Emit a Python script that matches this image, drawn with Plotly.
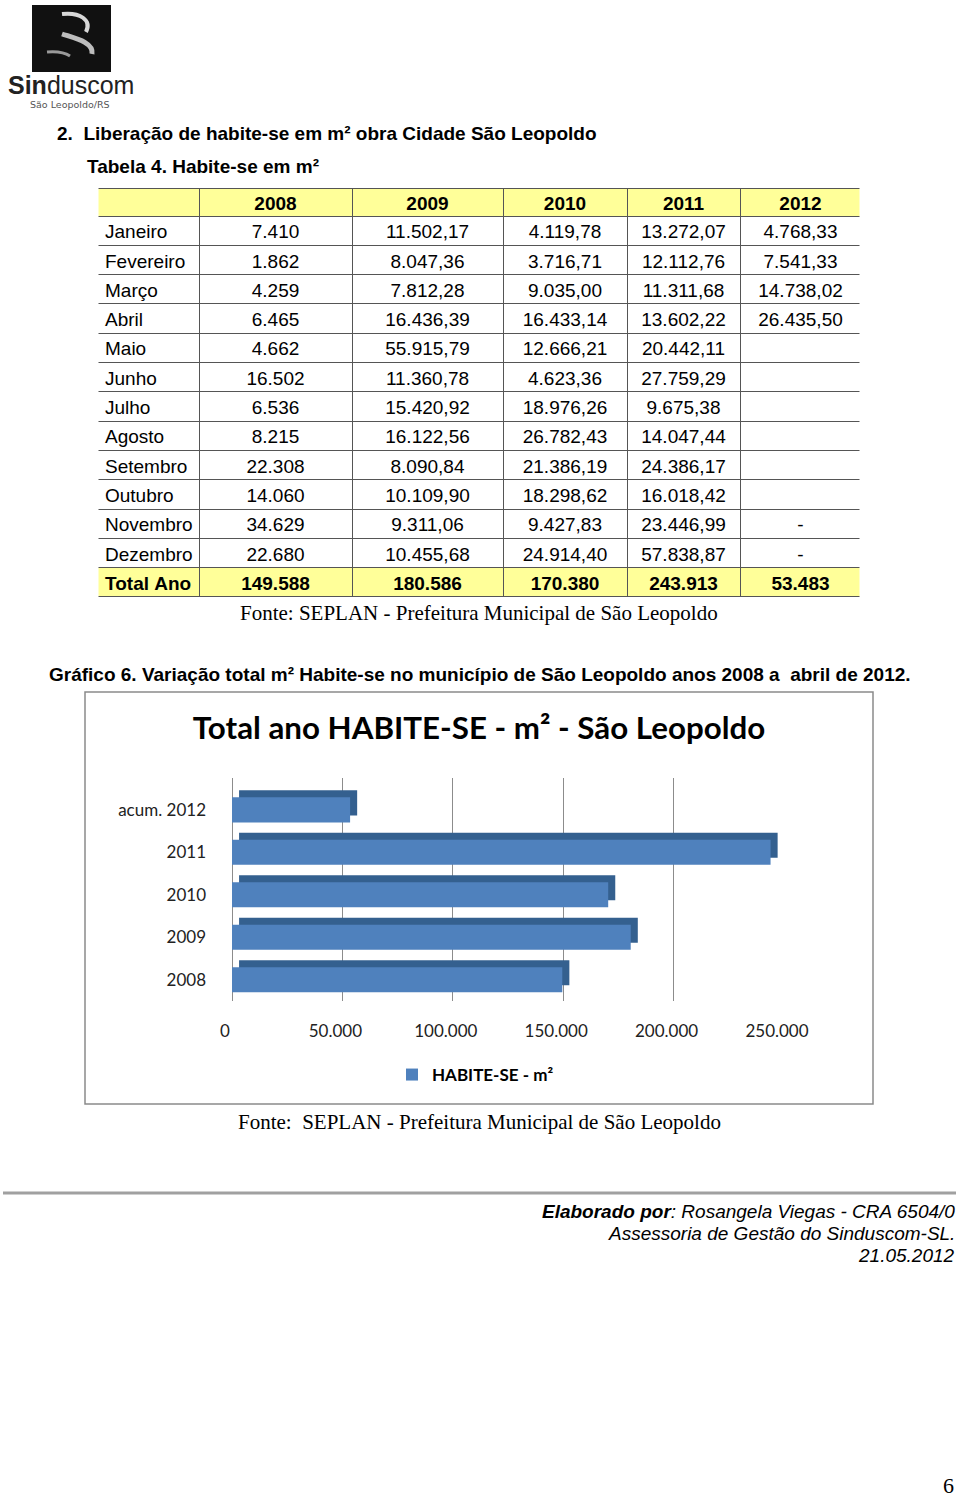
"""Habite-se page: table 4 and gráfico 6 (São Leopoldo)."""

import plotly.graph_objects as go

W, H = 960, 1499

# --- table data (Tabela 4. Habite-se em m²) ---
MONTHS = ["Janeiro", "Fevereiro", "Março", "Abril", "Maio", "Junho", "Julho",
          "Agosto", "Setembro", "Outubro", "Novembro", "Dezembro"]
YEARS = ["2008", "2009", "2010", "2011", "2012"]
V2008 = ["7.410", "1.862", "4.259", "6.465", "4.662", "16.502", "6.536",
         "8.215", "22.308", "14.060", "34.629", "22.680"]
V2009 = ["11.502,17", "8.047,36", "7.812,28", "16.436,39", "55.915,79",
         "11.360,78", "15.420,92", "16.122,56", "8.090,84", "10.109,90",
         "9.311,06", "10.455,68"]
V2010 = ["4.119,78", "3.716,71", "9.035,00", "16.433,14", "12.666,21",
         "4.623,36", "18.976,26", "26.782,43", "21.386,19", "18.298,62",
         "9.427,83", "24.914,40"]
V2011 = ["13.272,07", "12.112,76", "11.311,68", "13.602,22", "20.442,11",
         "27.759,29", "9.675,38", "14.047,44", "24.386,17", "16.018,42",
         "23.446,99", "57.838,87"]
V2012 = ["4.768,33", "7.541,33", "14.738,02", "26.435,50", "", "", "", "",
         "", "", "-", "-"]
TOTAL_LABEL = "Total\u00a0Ano"
TOTALS_TXT = ["149.588", "180.586", "170.380", "243.913", "53.483"]

# --- chart data (Gráfico 6) ---
BAR_CATS = ["2008", "2009", "2010", "2011", "acum. 2012"]
BAR_TOTALS = [149588, 180586, 170380, 243913, 53483]

YELLOW = "#FFFF99"
BLUE = "#4F81BD"
BLUE_DARK = "#34608F"
CHART_FONT = "Lato"
TABLE_FONT = "Liberation Sans"
COL_W = [102, 153, 151, 124, 113, 121]
HEAD_H, ROW_H = 28, 29.3
TABLE_TOP = 188


def px(x):
    return x / W


def py(y):
    return 1 - y / H


fig = go.Figure()

# month table (years in the header row)
body_bottom = TABLE_TOP + HEAD_H + ROW_H * len(MONTHS)
fig.add_trace(go.Table(
    domain=dict(x=[px(97), px(861)], y=[py(body_bottom + 2), py(TABLE_TOP)]),
    columnwidth=COL_W,
    header=dict(
        values=[""] + YEARS,
        fill_color=YELLOW,
        line=dict(color="#555555", width=1),
        align="center",
        height=HEAD_H,
        font=dict(family=TABLE_FONT, size=19, color="black", weight="bold"),
    ),
    cells=dict(
        values=[MONTHS, V2008, V2009, V2010, V2011, V2012],
        fill_color="white",
        line=dict(color="#555555", width=1),
        align=["left"] + ["center"] * 5,
        height=ROW_H,
        font=dict(family=TABLE_FONT, size=19, color="black"),
    ),
))
# total row (bold, yellow) as its own one-row table
fig.add_trace(go.Table(
    domain=dict(x=[px(97), px(861)],
                y=[py(body_bottom + ROW_H + 4), py(body_bottom)]),
    columnwidth=COL_W,
    header=dict(
        values=[TOTAL_LABEL] + TOTALS_TXT,
        fill_color=YELLOW,
        line=dict(color="#555555", width=1),
        align=["left"] + ["center"] * 5,
        height=ROW_H,
        font=dict(family=TABLE_FONT, size=19, color="black", weight="bold"),
    ),
    cells=dict(values=[]),
))

# 3D-looking bars: darker copy slightly up/right, front face on top
fig.add_trace(go.Bar(
    y=BAR_CATS, x=BAR_TOTALS, base=3200, orientation="h",
    width=0.59, offset=-0.13, marker=dict(color=BLUE_DARK, line_width=0),
    showlegend=False, hoverinfo="skip",
))
fig.add_trace(go.Bar(
    y=BAR_CATS, x=BAR_TOTALS, orientation="h",
    width=0.59, offset=-0.295, marker=dict(color=BLUE, line_width=0),
    name="HABITE-SE - m²",
))

fig.update_xaxes(
    domain=[px(232), px(784)], range=[0, 250000], dtick=50000,
    tickformat=",d", showgrid=True, gridcolor="#8c8c8c", gridwidth=1,
    zeroline=True, zerolinecolor="#8c8c8c", zerolinewidth=1, showline=False,
    ticklabelstandoff=18, ticklabelshift=-7, automargin=False,
    tickfont=dict(family=CHART_FONT, size=17, color="#222"),
)
fig.update_yaxes(
    domain=[py(1001), py(778)], range=[-0.5, 4.75], type="category",
    showgrid=False, ticklabelstandoff=25, showline=False, automargin=False,
    tickfont=dict(family=CHART_FONT, size=17, color="#222"),
)

shapes = [
    # chart frame
    dict(type="rect", xref="paper", yref="paper", x0=px(85), x1=px(873),
         y0=py(692), y1=py(1104), line=dict(color="#8a8a8a", width=1.5)),
    # footer rule
    dict(type="line", xref="paper", yref="paper", x0=px(3), x1=px(956),
         y0=py(1193), y1=py(1193), line=dict(color="#a0a0a0", width=3)),
    # logo block
    dict(type="rect", xref="paper", yref="paper", x0=px(32), x1=px(111),
         y0=py(72), y1=py(5), fillcolor="#111", line_width=0),
    # hide outer table side borders
    dict(type="line", xref="paper", yref="paper", x0=px(97), x1=px(97),
         y0=py(186), y1=py(602), line=dict(color="white", width=3),
         layer="above"),
    dict(type="line", xref="paper", yref="paper", x0=px(861), x1=px(861),
         y0=py(186), y1=py(602), line=dict(color="white", width=3),
         layer="above"),
]


def logo_path(pts):
    s = "M {} {}".format(px(pts[0][0]), py(pts[0][1]))
    for a, b, c in zip(pts[1::3], pts[2::3], pts[3::3]):
        s += " C {} {}, {} {}, {} {}".format(px(a[0]), py(a[1]), px(b[0]),
                                             py(b[1]), px(c[0]), py(c[1]))
    return s


shapes += [
    dict(type="path", xref="paper", yref="paper",
         path=logo_path([(62, 14), (80, 12), (92, 20), (86, 32)]),
         line=dict(color="#d8d8d8", width=4)),
    dict(type="path", xref="paper", yref="paper",
         path=logo_path([(62, 34), (74, 38), (94, 42), (92, 54)]),
         line=dict(color="#bdbdbd", width=5)),
    dict(type="path", xref="paper", yref="paper",
         path=logo_path([(47, 52), (58, 51), (64, 52), (70, 56)]),
         line=dict(color="#9a9a9a", width=3)),
]

annotations = [
    dict(x=px(6), y=py(85), xanchor="left", yanchor="middle",
         text="<span style='font-weight:900'>Sin</span>duscom",
         font=dict(family="Liberation Sans", size=25, color="#222")),
    dict(x=px(28), y=py(105), xanchor="left", yanchor="middle",
         text="São Leopoldo/RS",
         font=dict(family="DejaVu Sans", size=9.5, color="#555")),
    dict(x=px(55), y=py(133), xanchor="left", yanchor="middle",
         text="<b>2.  Liberação de habite-se em m² obra Cidade São Leopoldo</b>",
         font=dict(family=TABLE_FONT, size=19, color="black")),
    dict(x=px(85), y=py(166), xanchor="left", yanchor="middle",
         text="<b>Tabela 4. Habite-se em m²</b>",
         font=dict(family=TABLE_FONT, size=19, color="black")),
    dict(x=px(479), y=py(613), xanchor="center", yanchor="middle",
         text="Fonte: SEPLAN - Prefeitura Municipal de São Leopoldo",
         font=dict(family="Liberation Serif", size=21, color="black")),
    dict(x=px(47), y=py(675), xanchor="left", yanchor="middle",
         text="<b>Gráfico 6. Variação total m² Habite-se no município de "
              "São Leopoldo anos 2008 a  abril de 2012.</b>",
         font=dict(family=TABLE_FONT, size=19, color="black")),
    dict(x=px(479), y=py(1122), xanchor="center", yanchor="middle",
         text="Fonte:  SEPLAN - Prefeitura Municipal de São Leopoldo",
         font=dict(family="Liberation Serif", size=21, color="black")),
    dict(x=px(957), y=py(1211), xanchor="right", yanchor="middle",
         text="<b><i>Elaborado por</i></b><i>: Rosangela Viegas - CRA 6504/0</i>",
         font=dict(family=TABLE_FONT, size=19, color="black")),
    dict(x=px(957), y=py(1233), xanchor="right", yanchor="middle",
         text="<i>Assessoria de Gestão do Sinduscom-SL.</i>",
         font=dict(family=TABLE_FONT, size=19, color="black")),
    dict(x=px(957), y=py(1255), xanchor="right", yanchor="middle",
         text="<i>21.05.2012</i>",
         font=dict(family=TABLE_FONT, size=19, color="black")),
    dict(x=px(956), y=py(1485), xanchor="right", yanchor="middle",
         text="6", font=dict(family="Liberation Serif", size=22, color="black")),
]
for a in annotations:
    a.update(xref="paper", yref="paper", showarrow=False)

fig.update_layout(
    width=W, height=H, margin=dict(l=0, r=0, t=0, b=0, autoexpand=False),
    paper_bgcolor="white", plot_bgcolor="white",
    barmode="overlay", separators=",.",
    title=dict(
        text="<b>Total ano HABITE-SE - m² - São Leopoldo</b>",
        x=px(479), xanchor="center", y=py(728), yanchor="middle",
        font=dict(family=CHART_FONT, size=31.3, color="black"),
    ),
    showlegend=True,
    legend=dict(
        orientation="h", x=px(392), xanchor="left", y=py(1075),
        yanchor="middle", itemwidth=30,
        font=dict(family=CHART_FONT, size=17, color="black", weight="bold"),
    ),
    shapes=shapes, annotations=annotations,
)

fig.write_html(
    "out.html",
    config={"displayModeBar": False},
    post_script="document.body.style.margin = '0px';",
)
